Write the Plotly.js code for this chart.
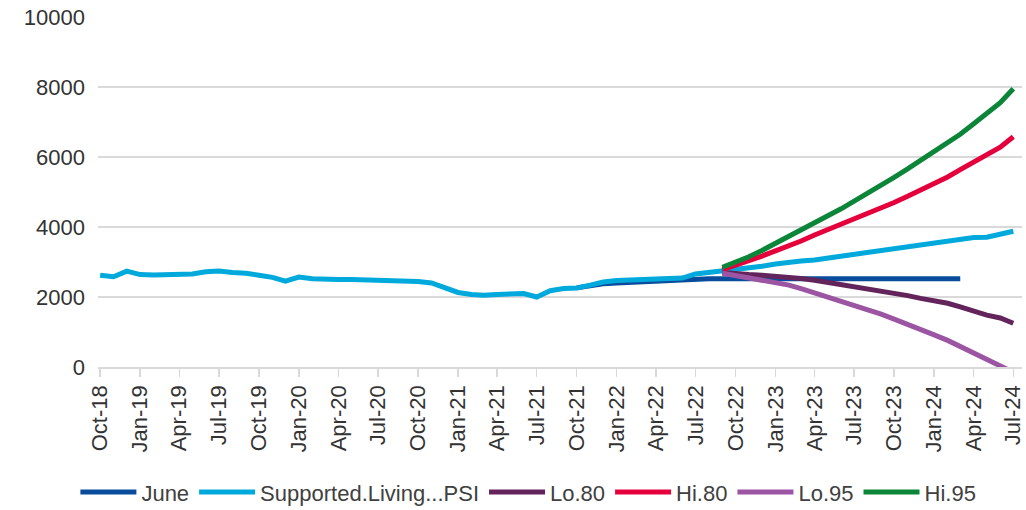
<!DOCTYPE html>
<html>
<head>
<meta charset="utf-8">
<script src="https://cdn.plot.ly/plotly-3.0.1.min.js"></script>
<style>
  body { margin: 0; background: #fff; }
  #chart { width: 1026px; height: 510px; }
</style>
</head>
<body>
<div id="chart"></div>
<script>
// monthly, Oct-18 .. Jul-24
var months = [];
for (var k = 0; k < 70; k++) {
    var d = new Date(Date.UTC(2018, 9 + k, 1));
    months.push(d.toISOString().slice(0, 10));
}

// actuals + point forecast
var supported = [2620, 2580, 2740, 2640, 2630, 2630, 2630, 2660, 2720, 2740,
                 2700, 2680, 2620, 2560, 2450, 2570, 2520, 2500, 2500, 2500,
                 2490, 2450, 2450, 2450, 2440, 2400, 2250, 2130, 2070, 2050,
                 2070, 2100, 2100, 2000, 2180, 2240, 2260, 2340, 2430, 2470,
                 2480, 2490, 2510, 2530, 2540, 2660, 2700, 2740, 2780, 2830,
                 2880, 2940, 3000, 3030, 3060, 3110, 3170, 3230, 3280, 3330,
                 3390, 3440, 3500, 3550, 3600, 3650, 3700, 3710, 3780, 3880];

// June series runs Oct-21 .. Mar-24
var juneStart = 36;
var june = [2260, 2320, 2380, 2400, 2420, 2440, 2460, 2480, 2490, 2510,
            2520, 2520, 2520, 2520, 2520, 2520, 2520, 2520, 2520, 2520,
            2520, 2520, 2520, 2520, 2520, 2520, 2520, 2520, 2520, 2520];

// forecast intervals, Sep-22 .. Jul-24
var fcStart = 47;
var lo80 = [2700, 2660, 2640, 2620, 2600, 2570, 2530, 2480, 2420, 2370, 2310, 2250,
            2190, 2120, 2040, 1960, 1900, 1820, 1720, 1600, 1480, 1400, 1250];
var hi80 = [2780, 2900, 3030, 3170, 3320, 3460, 3600, 3770, 3920, 4080, 4240, 4390,
            4540, 4700, 4880, 5060, 5230, 5430, 5640, 5850, 6050, 6280, 6580];
var lo95 = [2680, 2620, 2560, 2500, 2430, 2340, 2240, 2120, 2000, 1880, 1760, 1640,
            1510, 1370, 1230, 1080, 920, 760, 590, 420, 240, 60, -150];
var hi95 = [2850, 2980, 3150, 3330, 3530, 3720, 3900, 4120, 4300, 4520, 4740, 4960,
            5180, 5420, 5660, 5900, 6130, 6380, 6650, 6950, 7250, 7550, 7950];

function line(name, x, y, color) {
    return {
        x: x, y: y, name: name, type: 'scatter', mode: 'lines',
        line: { color: color, width: 5 },
        hoverinfo: 'x+y'
    };
}

var fcMonths = months.slice(fcStart, fcStart + 23);
var data = [
    line('June', months.slice(juneStart, juneStart + june.length), june, '#0a4c9c'),
    line('Supported.Living...PSI', months, supported, '#00a9db'),
    line('Lo.80', fcMonths, lo80, '#62245a'),
    line('Hi.80', fcMonths, hi80, '#e5003c'),
    line('Lo.95', fcMonths, lo95, '#9b55a3'),
    line('Hi.95', fcMonths, hi95, '#0b8537')
];

var layout = {
    width: 1026, height: 510,
    margin: { l: 98, r: 4, t: 17, b: 143 },
    paper_bgcolor: '#fff', plot_bgcolor: '#fff',
    font: { family: 'Liberation Sans, Arial, sans-serif', color: '#404040', size: 22 },
    showlegend: true,
    legend: {
        orientation: 'h', xref: 'container', yref: 'container',
        x: 0.515, xanchor: 'center', y: 0.035, yanchor: 'middle',
        font: { size: 22, color: '#404040' },
        itemwidth: 56, itemclick: false
    },
    xaxis: {
        type: 'date',
        range: ['2018-09-26', '2024-07-21'],
        tick0: '2018-10-01', dtick: 'M3', tickformat: '%b-%y',
        tickangle: -90,
        showgrid: false,
        showline: true, linecolor: '#d9d9d9', linewidth: 1.5,
        ticks: 'outside', ticklen: 8, tickcolor: '#d9d9d9', tickwidth: 1.5,
        tickfont: { size: 22, color: '#333' },
        zeroline: false
    },
    yaxis: {
        range: [0, 10000], dtick: 2000, tickformat: 'd',
        showgrid: true, gridcolor: '#d9d9d9', gridwidth: 1.5,
        zeroline: false, showline: false, ticks: '',
        ticklabelstandoff: 12,
        tickfont: { size: 22, color: '#333' }
    }
};

Plotly.newPlot('chart', data, layout, { displayModeBar: false, staticPlot: true });
</script>
</body>
</html>
